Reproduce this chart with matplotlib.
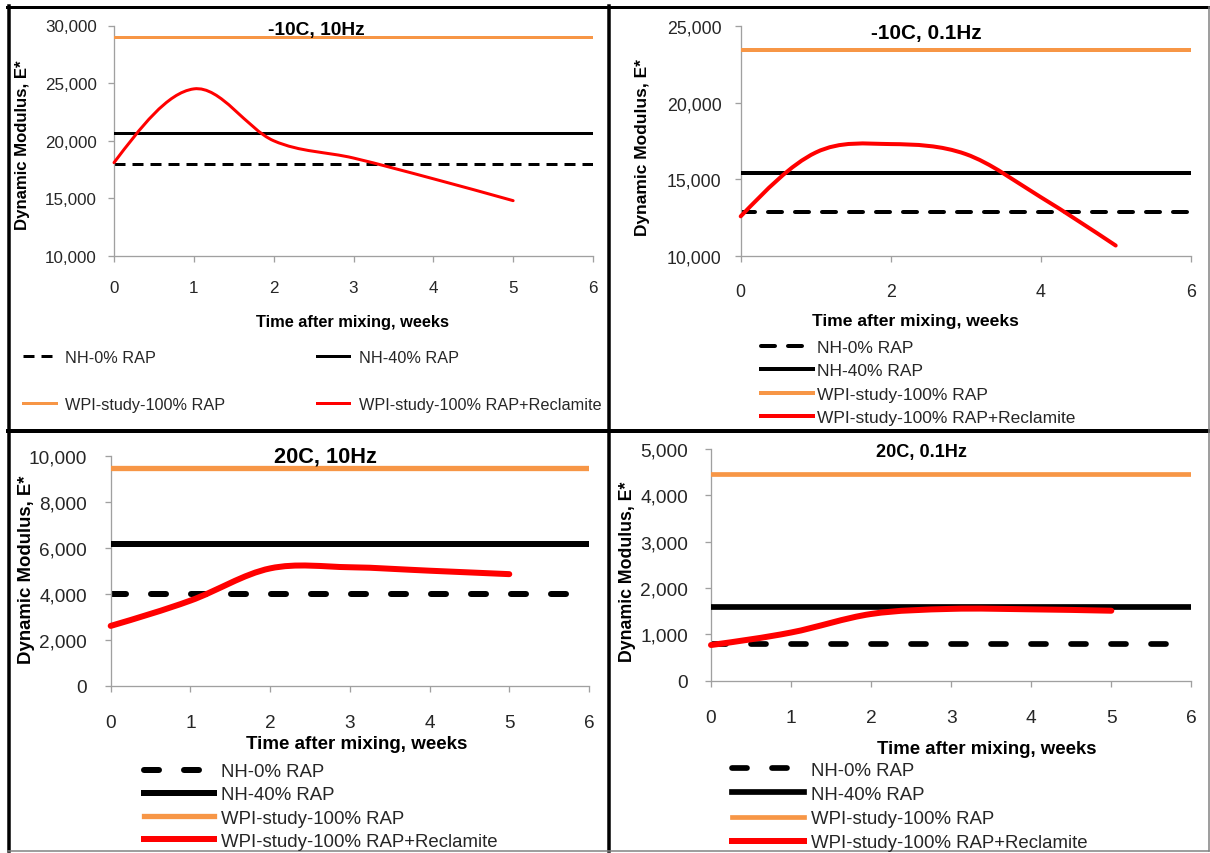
import numpy as np
import matplotlib
matplotlib.use("Agg")
from matplotlib import pyplot as plt
from matplotlib.path import Path
from matplotlib.patches import PathPatch
from matplotlib.lines import Line2D
from matplotlib.ticker import FuncFormatter, MultipleLocator

plt.rcParams['font.family'] = ['Liberation Sans', 'DejaVu Sans']
plt.rcParams['lines.scale_dashes'] = False

W, H = 1210, 854
PT = 0.72  # points per pixel at dpi 100

# ---- data ----
titles = ["-10C, 10Hz", "-10C, 0.1Hz", "20C, 10Hz", "20C, 0.1Hz"]
weeks = [0, 1, 2, 3, 4, 5]
nh_0_rap = [18000, 12900, 4000, 790]
nh_40_rap = [20700, 15400, 6150, 1580]
wpi_100_rap = [29000, 23400, 9450, 4450]
wpi_reclamite = [
    [18100, 24500, 20000, 18500, 16700, 14800],
    [12600, 16750, 17300, 16650, 13850, 10700],
    [2600, 3700, 5100, 5150, 5000, 4850],
    [770, 1040, 1440, 1550, 1540, 1510],
]
y_ranges = [(10000, 30000), (10000, 25000), (0, 10000), (0, 5000)]
y_steps = [5000, 5000, 2000, 1000]
x_steps = [1, 2, 1, 1]
series_names = ["NH-0% RAP", "NH-40% RAP", "WPI-study-100% RAP",
                "WPI-study-100% RAP+Reclamite"]

ORANGE = "#f79646"
RED = "#ff0000"
AXIS_GREY = "#a0a0a0"

# layout of each panel, in pixels of the final picture
panels = [
    dict(box=(114, 593, 26.5, 257), lw=(3, 3, 3, 3), dash=(11, 7), cap="butt",
         tick_fs=17, ypad=11, xpad=18, title=(316, 30, 19.2), xlab=(352, 323, 16.4),
         ylab=(23, 145, 16.7), leg=dict(x=23, y=382, fs=16.3, ncol=2, hl=2.0,
                                        htp=0.6, ls=1.95, cs=5.6)),
    dict(box=(740.7, 1190.7, 26.7, 257.3), lw=(4, 4, 4, 4), dash=(14, 13), cap="round",
         tick_fs=17.7, ypad=13, xpad=21, title=(926, 33, 20.6), xlab=(915, 322, 17.5),
         ylab=(642, 148, 17.4), leg=dict(x=761, y=383.5, fs=17.4, ncol=1, hl=3.0,
                                         htp=0.23, ls=0.47, cs=0)),
    dict(box=(110.7, 589, 456.7, 686.7), lw=(6, 6, 5.3, 6), dash=(15, 25), cap="round",
         tick_fs=19, ypad=17.5, xpad=22, title=(325, 457, 21.8), xlab=(357, 745, 18.75),
         ylab=(27, 570, 18.7), leg=dict(x=144, y=807.5, fs=18.7, ncol=1, hl=3.75,
                                        htp=0.37, ls=0.33, cs=0)),
    dict(box=(711, 1191.4, 450, 681.7), lw=(5.7, 5.7, 4.7, 6), dash=(15, 25), cap="round",
         tick_fs=19.2, ypad=17, xpad=22, title=(921, 453, 18.2), xlab=(987, 750, 18.7),
         ylab=(628, 572, 17.7), leg=dict(x=732, y=807.5, fs=18.7, ncol=1, hl=3.85,
                                         htp=0.37, ls=0.38, cs=0)),
]


def smooth_path(xs, ys):
    # Excel style smoothed line: cubic bezier segments through the data points,
    # catmull-rom tangents inside and "natural" tangents at both ends
    pts = np.column_stack([xs, ys]).astype(float)
    n = len(pts)
    tang = np.zeros_like(pts)
    for i in range(1, n - 1):
        tang[i] = (pts[i + 1] - pts[i - 1]) / 2
    tang[0] = (3 * (pts[1] - pts[0]) - tang[1]) / 2
    tang[-1] = (3 * (pts[-1] - pts[-2]) - tang[-2]) / 2
    verts = [pts[0]]
    codes = [Path.MOVETO]
    for i in range(n - 1):
        verts += [pts[i] + tang[i] / 3, pts[i + 1] - tang[i + 1] / 3, pts[i + 1]]
        codes += [Path.CURVE4] * 3
    return Path(verts, codes)


def fx(x):
    return x / W


def fy(y):
    return 1 - y / H


fig = plt.figure(figsize=(W / 100, H / 100), dpi=100)

for i, p in enumerate(panels):
    x0, x1, yt, yb = p["box"]
    ax = fig.add_axes([fx(x0), fy(yb), (x1 - x0) / W, (yb - yt) / H])
    ax.set_facecolor("none")
    lw_d, lw_b, lw_o, lw_r = [v * PT for v in p["lw"]]

    l_nh0 = ax.axhline(nh_0_rap[i], color="black", lw=lw_d,
                       linestyle=(0, tuple(v * PT for v in p["dash"])),
                       dash_capstyle=p["cap"], zorder=2)
    l_nh40 = ax.axhline(nh_40_rap[i], color="black", lw=lw_b, zorder=3)
    l_wpi = ax.axhline(wpi_100_rap[i], color=ORANGE, lw=lw_o, zorder=4)
    curve = PathPatch(smooth_path(weeks, wpi_reclamite[i]), fill=False,
                      edgecolor=RED, lw=lw_r, capstyle="round", zorder=5,
                      clip_on=False)
    ax.add_patch(curve)
    l_red = Line2D([], [], color=RED, lw=lw_r)

    ax.set_xlim(0, 6)
    ax.set_ylim(*y_ranges[i])
    ax.xaxis.set_major_locator(MultipleLocator(x_steps[i]))
    ax.yaxis.set_major_locator(MultipleLocator(y_steps[i]))
    ax.yaxis.set_major_formatter(FuncFormatter(lambda v, pos: f"{v:,.0f}"))
    for s in ["top", "right"]:
        ax.spines[s].set_visible(False)
    for s in ["left", "bottom"]:
        ax.spines[s].set_color(AXIS_GREY)
        ax.spines[s].set_linewidth(1.3 * PT)
    ax.tick_params(axis="both", direction="out", length=6 * PT, width=1.3 * PT,
                   color=AXIS_GREY, labelcolor="#262626",
                   labelsize=p["tick_fs"] * PT)
    ax.tick_params(axis="y", pad=p["ypad"] * PT)
    ax.tick_params(axis="x", pad=p["xpad"] * PT)

    tx, ty, tfs = p["title"]
    fig.text(fx(tx), fy(ty), titles[i], ha="center", va="center",
             fontsize=tfs * PT, fontweight="bold")
    xx, xy, xfs = p["xlab"]
    fig.text(fx(xx), fy(xy), "Time after mixing, weeks", ha="center",
             va="center", fontsize=xfs * PT, fontweight="bold")
    yx, yy, yfs = p["ylab"]
    fig.text(fx(yx), fy(yy), "Dynamic Modulus, E*", ha="center", va="center",
             rotation=90, fontsize=yfs * PT, fontweight="bold")

    lg = p["leg"]
    handles = [l_nh0, l_nh40, l_wpi, l_red]
    names = list(series_names)
    if lg["ncol"] == 2:
        # row-major order for the two column legend
        handles = [handles[0], handles[2], handles[1], handles[3]]
        names = [names[0], names[2], names[1], names[3]]
    fig.legend(handles, names, loc="center left",
               bbox_to_anchor=(fx(lg["x"]), fy(lg["y"])),
               ncol=lg["ncol"], frameon=False, borderpad=0, borderaxespad=0,
               fontsize=lg["fs"] * PT, handlelength=lg["hl"],
               handletextpad=lg["htp"], labelspacing=lg["ls"],
               columnspacing=lg["cs"], labelcolor="#262626")

# panel frames
frame_lines = [
    ((7, 1209), (7.5, 7.5), "black", 3),
    ((8.5, 8.5), (7, 852), "black", 3.5),
    ((609, 609), (7, 852), "black", 3.5),
    ((8, 1209), (432, 432), "black", 4),
    ((1208.5, 1208.5), (8, 852), "#808080", 1.5),
    ((8, 1209), (851.5, 851.5), "#808080", 1.5),
]
for xs, ys, c, w in frame_lines:
    fig.add_artist(Line2D([fx(v) for v in xs], [fy(v) for v in ys],
                          color=c, lw=w * PT, transform=fig.transFigure))

fig.savefig("out.png", dpi=100)
